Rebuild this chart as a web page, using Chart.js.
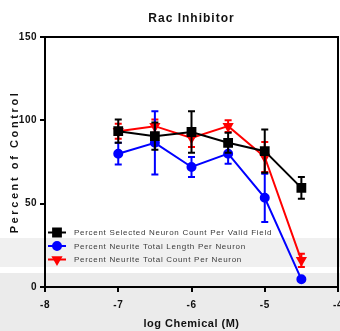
<!DOCTYPE html>
<html>
<head>
<meta charset="utf-8">
<script src="https://cdn.jsdelivr.net/npm/chart.js@4.4.1/dist/chart.umd.min.js"></script>
<style>
  html, body { margin: 0; padding: 0; }
  body {
    width: 340px;
    height: 331px;
    background: linear-gradient(to bottom, #fff 0, #fff 238px, #f0f0f0 238px, #f0f0f0 267px, #fff 267px, #fff 273px, #ebebeb 273px);
  }
  #wrap { position: relative; width: 340px; height: 331px; }
</style>
</head>
<body>
<div id="wrap"><canvas id="rac-chart"></canvas></div>
<script>
// log concentration of each dose
const doses = [-7, -6.5, -6, -5.5, -5, -4.5];

const seriesLabels = [
  'Percent Selected Neuron Count Per Valid Field',
  'Percent Neurite Total Length Per Neuron',
  'Percent Neurite Total Count Per Neuron',
];

// mean values (percent of control)
const neuronCount   = [93.5, 90.5, 93, 86.5, 81.5, 59.5];
const neuriteLength = [80, 86.5, 72, 80, 53.5, 4.6];
const neuriteCount  = [93.5, 96.5, 89.5, 96.5, 78, 16];

// error bar half-heights
const neuronCountErr   = [7, 8.2, 12.5, 6, 13, 6.5];
const neuriteLengthErr = [6.5, 19, 6, 6, 14.5, 0.5];
const neuriteCountErr  = [4.5, 4, 5.5, 3.5, 9, 4];

const xMin = -8, xMax = -4, xStep = 1;
const yMin = 0, yMax = 150, yStep = 50;

const toPoints = (vals) => vals.map((v, i) => ({ x: doses[i], y: v }));

// per-text letter spacing, canvas text has no css letter-spacing
const spacing = {
  'Rac Inhibitor': '1px',
  'Percent of Control': '2.6px',
};

const canvas = document.getElementById('rac-chart');
const ctx = canvas.getContext('2d');
const rawFill = ctx.fillText.bind(ctx);
ctx.fillText = (text, x, y, w) => {
  ctx.letterSpacing = spacing[text] || ctx.__spacing || '0.5px';
  if (w === undefined) rawFill(text, x, y);
  else rawFill(text, x, y, w);
};

const noPadding = () => ({ left: 0, right: 0, top: 0, bottom: 0 });

const errorBars = {
  id: 'errorBars',
  beforeDatasetDraw(chart, args) {
    const ds = chart.data.datasets[args.index];
    const meta = args.meta;
    const yScale = chart.scales.y;
    const c = chart.ctx;
    c.save();
    c.strokeStyle = ds.borderColor;
    c.lineWidth = 2;
    meta.data.forEach((pt, i) => {
      const v = ds.data[i].y;
      const e = ds.errors[i];
      const top = yScale.getPixelForValue(v + e);
      const bot = yScale.getPixelForValue(v - e);
      c.beginPath();
      c.moveTo(pt.x, top); c.lineTo(pt.x, bot);
      c.moveTo(pt.x - 3.5, top); c.lineTo(pt.x + 3.5, top);
      c.moveTo(pt.x - 3.5, bot); c.lineTo(pt.x + 3.5, bot);
      c.stroke();
    });
    c.restore();
  }
};

// legend sits inside the plot, bottom-left
const insideLegend = {
  id: 'insideLegend',
  afterDraw(chart) {
    const { left, bottom } = chart.chartArea;
    const c = chart.ctx;
    c.save();
    chart.data.datasets.forEach((ds, i) => {
      const y = bottom - 54.5 + i * 13.5;
      c.strokeStyle = ds.borderColor;
      c.fillStyle = ds.borderColor;
      c.lineWidth = 2;
      c.beginPath();
      c.moveTo(left + 3, y); c.lineTo(left + 21, y);
      c.stroke();
      Chart.helpers.drawPoint(c, {
        pointStyle: ds.pointStyle,
        radius: ds.pointRadius,
        rotation: ds.pointRotation || 0,
        borderWidth: 1,
      }, left + 12, y);
      c.fillStyle = '#3a3a3a';
      c.font = '8px "Liberation Sans", Arial, sans-serif';
      c.textBaseline = 'middle';
      c.textAlign = 'left';
      ctx.__spacing = '0.7px';
      c.fillText(ds.label, left + 29, y + 0.5);
      ctx.__spacing = null;
    });
    c.restore();
  }
};

const font = '"Liberation Sans", Arial, sans-serif';

new Chart(ctx, {
  type: 'line',
  data: {
    datasets: [
      {
        label: seriesLabels[0],
        data: toPoints(neuronCount),
        errors: neuronCountErr,
        borderColor: '#000000',
        backgroundColor: '#000000',
        borderWidth: 2,
        pointStyle: 'rect',
        pointRadius: 5.5,
        pointHoverRadius: 5.5,
      },
      {
        label: seriesLabels[1],
        data: toPoints(neuriteLength),
        errors: neuriteLengthErr,
        borderColor: '#0000ff',
        backgroundColor: '#0000ff',
        borderWidth: 2,
        pointStyle: 'circle',
        pointRadius: 4,
        pointHoverRadius: 4,
      },
      {
        label: seriesLabels[2],
        data: toPoints(neuriteCount),
        errors: neuriteCountErr,
        borderColor: '#ff0000',
        backgroundColor: '#ff0000',
        borderWidth: 2,
        pointStyle: 'triangle',
        pointRotation: 180,
        rotation: 180,
        pointRadius: 4.5,
        pointHoverRadius: 4.5,
      },
    ],
  },
  options: {
    responsive: true,
    maintainAspectRatio: false,
    animation: false,
    events: [],
    layout: { autoPadding: false, padding: { left: 0, right: 2, top: 0, bottom: 0 } },
    plugins: {
      legend: { display: false },
      tooltip: { enabled: false },
    },
    scales: {
      x: {
        type: 'linear',
        min: xMin,
        max: xMax,
        // let the last label run off the canvas like the original
        afterFit(scale) {
          scale.height = 44;
          scale.paddingLeft = 0;
          scale.paddingRight = 0;
          scale.getPadding = noPadding;
        },
        ticks: {
          stepSize: xStep,
          color: '#111',
          padding: 7,
          font: { family: font, size: 10, weight: 'bold' },
        },
        grid: { drawOnChartArea: false, tickLength: 5, color: '#000', lineWidth: 2 },
        border: { color: '#000', width: 2 },
        title: {
          display: true,
          text: 'log Chemical (M)',
          color: '#111',
          font: { family: font, size: 11, weight: 'bold' },
          padding: { top: 0, bottom: 0 },
        },
      },
      // top frame line, carries the chart title centred over the plot
      xTop: {
        type: 'linear',
        position: 'top',
        min: xMin,
        max: xMax,
        afterFit(scale) { scale.height = 37; },
        ticks: { display: false },
        grid: { display: false },
        border: { display: true, color: '#000', width: 2 },
        title: {
          display: true,
          text: 'Rac Inhibitor',
          color: '#111',
          font: { family: font, size: 12, weight: 'bold' },
          padding: { top: 11, bottom: 0 },
        },
      },
      y: {
        min: yMin,
        max: yMax,
        afterFit(scale) {
          scale.width = 45;
          scale.paddingTop = 0;
          scale.paddingBottom = 0;
          scale.getPadding = noPadding;
        },
        ticks: {
          stepSize: yStep,
          color: '#111',
          padding: 3,
          font: { family: font, size: 10, weight: 'bold' },
        },
        grid: { drawOnChartArea: false, tickLength: 5, color: '#000', lineWidth: 2 },
        border: { color: '#000', width: 2 },
        title: {
          display: true,
          text: 'Percent of Control',
          color: '#111',
          font: { family: font, size: 11, weight: 'bold' },
          padding: { top: 8, bottom: 0 },
        },
      },
      // right frame line
      yRight: {
        position: 'right',
        min: yMin,
        max: yMax,
        afterFit(scale) { scale.width = 0; },
        ticks: { display: false },
        grid: { display: false },
        border: { display: true, color: '#000', width: 2 },
      },
    },
  },
  plugins: [errorBars, insideLegend],
});
</script>
</body>
</html>
